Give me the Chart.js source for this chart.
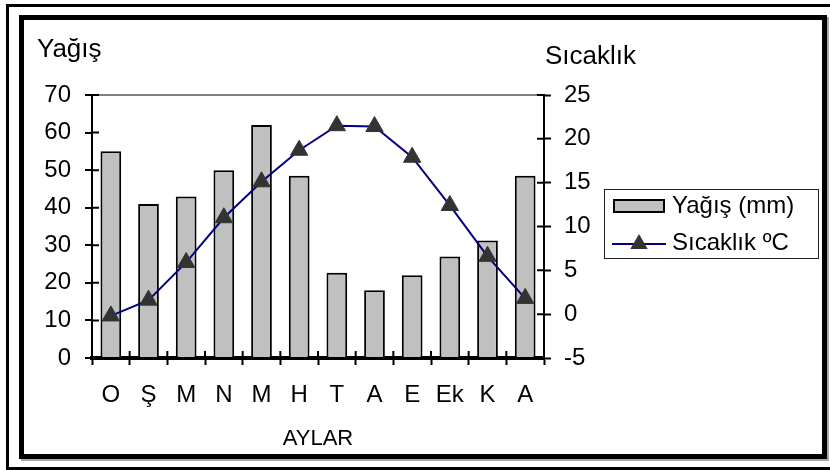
<!DOCTYPE html>
<html lang="tr">
<head>
<meta charset="utf-8">
<title>Yağış ve Sıcaklık</title>
<script src="https://cdn.jsdelivr.net/npm/chart.js@4.4.0/dist/chart.umd.min.js"></script>
<style>
  html, body { margin: 0; padding: 0; background: #fff; }
  #wrap { position: relative; width: 830px; height: 470px; overflow: hidden; }
  #outer { position: absolute; left: 6px; top: 4px; width: 840px; height: 466px; box-sizing: border-box; border: 3px solid #000; }
  #inner { position: absolute; left: 19px; top: 15px; width: 808px; height: 444px; box-sizing: border-box; border: 5px solid #000; box-shadow: 2px 2px 0 #a8a8a8; }
  #chart { position: absolute; left: 0; top: 0; }
</style>
</head>
<body>
<div id="wrap">
  <div id="outer"></div>
  <div id="inner"></div>
  <canvas id="chart" width="830" height="470"></canvas>
</div>
<script>
const MONTHS = ['O', 'Ş', 'M', 'N', 'M', 'H', 'T', 'A', 'E', 'Ek', 'K', 'A'];
const RAIN_MM = [55, 41, 43, 50, 62, 48.5, 22.7, 18, 22, 27, 31.3, 48.5];
const TEMP_C = [-0.2, 1.6, 5.9, 11.0, 15.1, 18.7, 21.5, 21.4, 17.9, 12.4, 6.6, 1.8];
const RAIN_TICKS = [0, 10, 20, 30, 40, 50, 60, 70];
const TEMP_TICKS = [-5, 0, 5, 10, 15, 20, 25];

const RAIN_LABEL = 'Yağış (mm)';
const TEMP_LABEL = 'Sıcaklık ºC';

const FONT = 'Arial, "Liberation Sans", sans-serif';
const BAR_GRAY = '#c0c0c0';
const LINE_BLUE = '#000080';
const MARKER = '#333333';

Chart.defaults.font.family = FONT;
Chart.defaults.color = '#000';

// little pictures used as legend symbols
function barSwatch() {
  const c = document.createElement('canvas');
  c.width = 52; c.height = 14;
  const g = c.getContext('2d');
  g.fillStyle = '#000';
  g.fillRect(0, 0, 52, 14);
  g.fillStyle = BAR_GRAY;
  g.fillRect(2, 2, 48, 10);
  return c;
}
function lineSwatch() {
  const c = document.createElement('canvas');
  c.width = 54; c.height = 20;
  const g = c.getContext('2d');
  g.strokeStyle = LINE_BLUE;
  g.lineWidth = 2;
  g.beginPath(); g.moveTo(0, 11); g.lineTo(54, 11); g.stroke();
  g.fillStyle = MARKER;
  g.beginPath(); g.moveTo(27, 1); g.lineTo(35.7, 16); g.lineTo(18.3, 16); g.closePath(); g.fill();
  return c;
}
const LEGEND_ICONS = [barSwatch(), lineSwatch()];

// ticks that cross the axis lines (Excel style)
const crossTicks = {
  id: 'crossTicks',
  afterDraw(chart) {
    const {ctx, chartArea: a, scales} = chart;
    const len = 7;
    ctx.save();
    ctx.strokeStyle = '#000';
    ctx.lineWidth = 2;
    ctx.beginPath();
    scales.y.ticks.forEach(t => {
      const y = scales.y.getPixelForValue(t.value);
      ctx.moveTo(a.left, y); ctx.lineTo(a.left + len, y);
    });
    scales.y1.ticks.forEach(t => {
      const y = scales.y1.getPixelForValue(t.value);
      ctx.moveTo(a.right - len, y); ctx.lineTo(a.right, y);
    });
    const n = scales.x.ticks.length;
    const step = (scales.x.right - scales.x.left) / n;
    for (let i = 0; i <= n; i++) {
      const x = scales.x.left + i * step;
      ctx.moveTo(x, a.bottom); ctx.lineTo(x, a.bottom - len);
    }
    ctx.stroke();
    ctx.restore();
  }
};

// axis captions sitting above the two value axes
const axisCaptions = {
  id: 'axisCaptions',
  afterDraw(chart) {
    const ctx = chart.ctx;
    ctx.save();
    ctx.fillStyle = '#000';
    ctx.font = '26px ' + FONT;
    ctx.textAlign = 'left';
    ctx.textBaseline = 'alphabetic';
    ctx.fillText('Yağış', 37, 57);
    ctx.fillText('Sıcaklık', 545, 64);
    ctx.restore();
  }
};

// move the legend into its framed box
const legendBox = {
  id: 'legendBox',
  afterLayout(chart) {
    const lg = chart.legend;
    lg.left = 605; lg.right = 820;
    lg.top = 180; lg.bottom = 269;
    lg.width = lg.right - lg.left;
    lg.height = lg.bottom - lg.top;
  },
  afterDraw(chart) {
    const lg = chart.legend;
    const hb = lg.legendHitBoxes;
    if (!hb || hb.length < 2) return;
    const ctx = chart.ctx;
    const top = hb[0].top - 5;
    const bottom = hb[1].top + hb[1].height + 3;
    ctx.save();
    ctx.strokeStyle = '#222';
    ctx.lineWidth = 1;
    ctx.strokeRect(lg.left - 0.5, top + 0.5, 214, bottom - top);
    ctx.restore();
  }
};

new Chart(document.getElementById('chart'), {
  type: 'bar',
  data: {
    labels: MONTHS,
    datasets: [
      {
        type: 'bar',
        label: RAIN_LABEL,
        data: RAIN_MM,
        yAxisID: 'y',
        order: 1,
        backgroundColor: BAR_GRAY,
        borderColor: '#000',
        borderWidth: 2,
        categoryPercentage: 1,
        barPercentage: 0.55
      },
      {
        type: 'line',
        label: TEMP_LABEL,
        data: TEMP_C,
        yAxisID: 'y1',
        order: 0,
        borderColor: LINE_BLUE,
        borderWidth: 2,
        tension: 0,
        pointStyle: 'triangle',
        pointRadius: 10,
        pointBackgroundColor: MARKER,
        pointBorderColor: MARKER,
        pointBorderWidth: 1
      }
    ]
  },
  options: {
    responsive: false,
    animation: false,
    devicePixelRatio: 1,
    layout: { padding: { left: 32, top: 95, right: 56, bottom: 12 } },
    plugins: {
      tooltip: { enabled: false },
      legend: {
        position: 'right',
        maxWidth: 170,
        labels: {
          color: '#000',
          font: { size: 24 },
          usePointStyle: true,
          pointStyleWidth: 42,
          padding: 13,
          sort: (a, b) => a.datasetIndex - b.datasetIndex,
          generateLabels(chart) {
            const items = Chart.defaults.plugins.legend.labels.generateLabels(chart);
            items.forEach(it => { it.pointStyle = LEGEND_ICONS[it.datasetIndex]; });
            return items;
          }
        }
      }
    },
    scales: {
      x: {
        type: 'category',
        offset: true,
        afterFit: s => { s.height = 100; },
        grid: { offset: true, drawOnChartArea: false, tickColor: '#000', tickWidth: 2, tickLength: 7 },
        border: { color: '#000', width: 4 },
        ticks: { color: '#000', font: { size: 24 }, padding: 16, autoSkip: false, maxRotation: 0 },
        title: { display: true, text: 'AYLAR', color: '#000', font: { size: 22 }, padding: { top: 0, bottom: 6 } }
      },
      y: {
        type: 'linear',
        position: 'left',
        min: RAIN_TICKS[0],
        max: RAIN_TICKS[RAIN_TICKS.length - 1],
        afterBuildTicks: s => { s.ticks = RAIN_TICKS.map(v => ({ value: v })); },
        afterFit: s => { s.width = 60; },
        grid: {
          color: c => (c.tick && c.tick.value === RAIN_TICKS[RAIN_TICKS.length - 1]) ? '#808080' : 'rgba(0,0,0,0)',
          lineWidth: 2,
          tickColor: '#000',
          tickWidth: 2,
          tickLength: 7
        },
        border: { color: '#000', width: 2 },
        ticks: { color: '#000', font: { size: 24 }, padding: 14 }
      },
      y1: {
        type: 'linear',
        position: 'right',
        min: TEMP_TICKS[0],
        max: TEMP_TICKS[TEMP_TICKS.length - 1],
        afterBuildTicks: s => { s.ticks = TEMP_TICKS.map(v => ({ value: v })); },
        afterFit: s => { s.width = 60; },
        grid: { drawOnChartArea: false, tickColor: '#000', tickWidth: 2, tickLength: 7 },
        border: { color: '#000', width: 2 },
        ticks: { color: '#000', font: { size: 24 }, padding: 13 }
      }
    }
  },
  plugins: [crossTicks, axisCaptions, legendBox]
});
</script>
</body>
</html>
